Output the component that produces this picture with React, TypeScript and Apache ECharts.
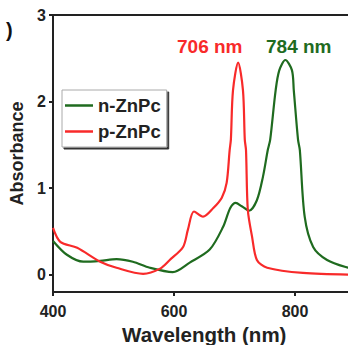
import React, { useEffect, useRef } from "react";
import * as echarts from "echarts";

const nWave = [400, 423, 450, 478, 505, 532, 560, 598, 626, 659, 681, 693, 702, 712, 724, 737, 747, 755, 759, 768, 774, 784, 795, 798, 805, 808, 816, 830, 853, 888, 900];
const nAbs = [0.39, 0.23, 0.15, 0.16, 0.18, 0.15, 0.08, 0.03, 0.14, 0.29, 0.55, 0.77, 0.83, 0.79, 0.74, 0.86, 1.13, 1.44, 1.56, 2.13, 2.36, 2.48, 2.36, 2.13, 1.56, 1.44, 0.67, 0.32, 0.17, 0.08, 0.07];

const pWave = [400, 412, 440, 478, 505, 549, 577, 593, 615, 623, 633, 648, 665, 679, 687, 692, 694, 697.5, 706, 714, 717, 719, 722, 729, 737, 754, 813, 900];
const pAbs = [0.54, 0.38, 0.31, 0.15, 0.08, 0.01, 0.07, 0.17, 0.32, 0.52, 0.73, 0.67, 0.77, 0.89, 1.06, 1.44, 1.56, 2.13, 2.45, 2.13, 1.56, 1.44, 0.75, 0.44, 0.17, 0.08, 0.02, 0.0];

const yTicks = [0, 1, 2, 3];
const xTicks = [400, 600, 800];
const seriesNames = ["n-ZnPc", "p-ZnPc"];
const peakLabels = ["706 nm", "784 nm"];
const GREEN = "#1f6b1f";
const RED = "#f82a2a";
const FONT = "'Liberation Sans', Arial, sans-serif";

export default function App() {
  const ref = useRef<HTMLDivElement>(null);
  useEffect(() => {
    const chart = echarts.init(ref.current!, undefined, { renderer: "svg" });
    const axisText = { color: "#222", fontWeight: "bold" as const, fontSize: 16, fontFamily: FONT };
    chart.setOption({
      animation: false,
      backgroundColor: "#fff",
      grid: { left: 53, top: 15, width: 302.5, height: 277, outerBoundsMode: "none", containLabel: false },
      legend: {
        orient: "vertical",
        left: 62,
        top: 90,
        data: seriesNames,
        icon: "rect",
        itemWidth: 28,
        itemHeight: 2.5,
        itemGap: 7,
        padding: [6, 6, 6, 3],
        backgroundColor: "#fff",
        borderColor: "#aaa",
        borderWidth: 1,
        shadowColor: "rgba(0,0,0,0.8)",
        shadowOffsetX: 2,
        shadowOffsetY: 2,
        textStyle: { color: "#222", fontWeight: "bold", fontSize: 18.5, fontFamily: FONT },
      },
      xAxis: [
        {
          type: "value",
          min: 400,
          max: 900,
          name: "Wavelength (nm)",
          nameLocation: "middle",
          nameGap: 19,
          nameTextStyle: { ...axisText, fontSize: 20.5 },
          axisLine: { show: true, onZero: false, lineStyle: { color: "#222", width: 2 } },
          axisTick: { show: true, length: 4, customValues: xTicks, lineStyle: { color: "#222", width: 2 } },
          axisLabel: { ...axisText, margin: 11, customValues: xTicks },
          splitLine: { show: false },
        },
        {
          type: "value",
          min: 400,
          max: 900,
          position: "top",
          axisLine: { show: true, onZero: false, lineStyle: { color: "#222", width: 2 } },
          axisTick: { show: false },
          axisLabel: { show: false },
          splitLine: { show: false },
        },
      ],
      yAxis: {
        type: "value",
        min: -0.2,
        max: 3,
        name: "Absorbance",
        nameLocation: "middle",
        nameGap: 26,
        nameTextStyle: { ...axisText, fontSize: 18 },
        axisLine: { show: true, onZero: false, lineStyle: { color: "#222", width: 2 } },
        axisTick: { show: true, length: 4, customValues: yTicks, lineStyle: { color: "#222", width: 2 } },
        axisLabel: { ...axisText, margin: 7, customValues: yTicks },
        splitLine: { show: false },
      },
      series: [
        {
          name: seriesNames[0],
          type: "line",
          data: nWave.map((w, i) => [w, nAbs[i]]),
          showSymbol: false,
          smooth: 0.3,
          color: GREEN,
          lineStyle: { width: 2.2, color: GREEN },
        },
        {
          name: seriesNames[1],
          type: "line",
          data: pWave.map((w, i) => [w, pAbs[i]]),
          showSymbol: false,
          smooth: 0.3,
          color: RED,
          lineStyle: { width: 2.2, color: RED },
        },
      ],
      graphic: [
        {
          type: "text",
          left: 177,
          top: 37,
          style: { text: peakLabels[0], fill: RED, font: `bold 19px ${FONT}` },
        },
        {
          type: "text",
          left: 266,
          top: 37,
          style: { text: peakLabels[1], fill: GREEN, font: `bold 19px ${FONT}` },
        },
        {
          type: "text",
          left: 6,
          top: 20,
          style: { text: ")", fill: "#111", font: `bold 20px ${FONT}` },
        },
      ],
    });
    return () => chart.dispose();
  }, []);
  return (
    <div
      ref={ref}
      style={{ position: "fixed", left: 0, top: 0, width: 348, height: 345, overflow: "hidden", background: "#fff" }}
    />
  );
}
